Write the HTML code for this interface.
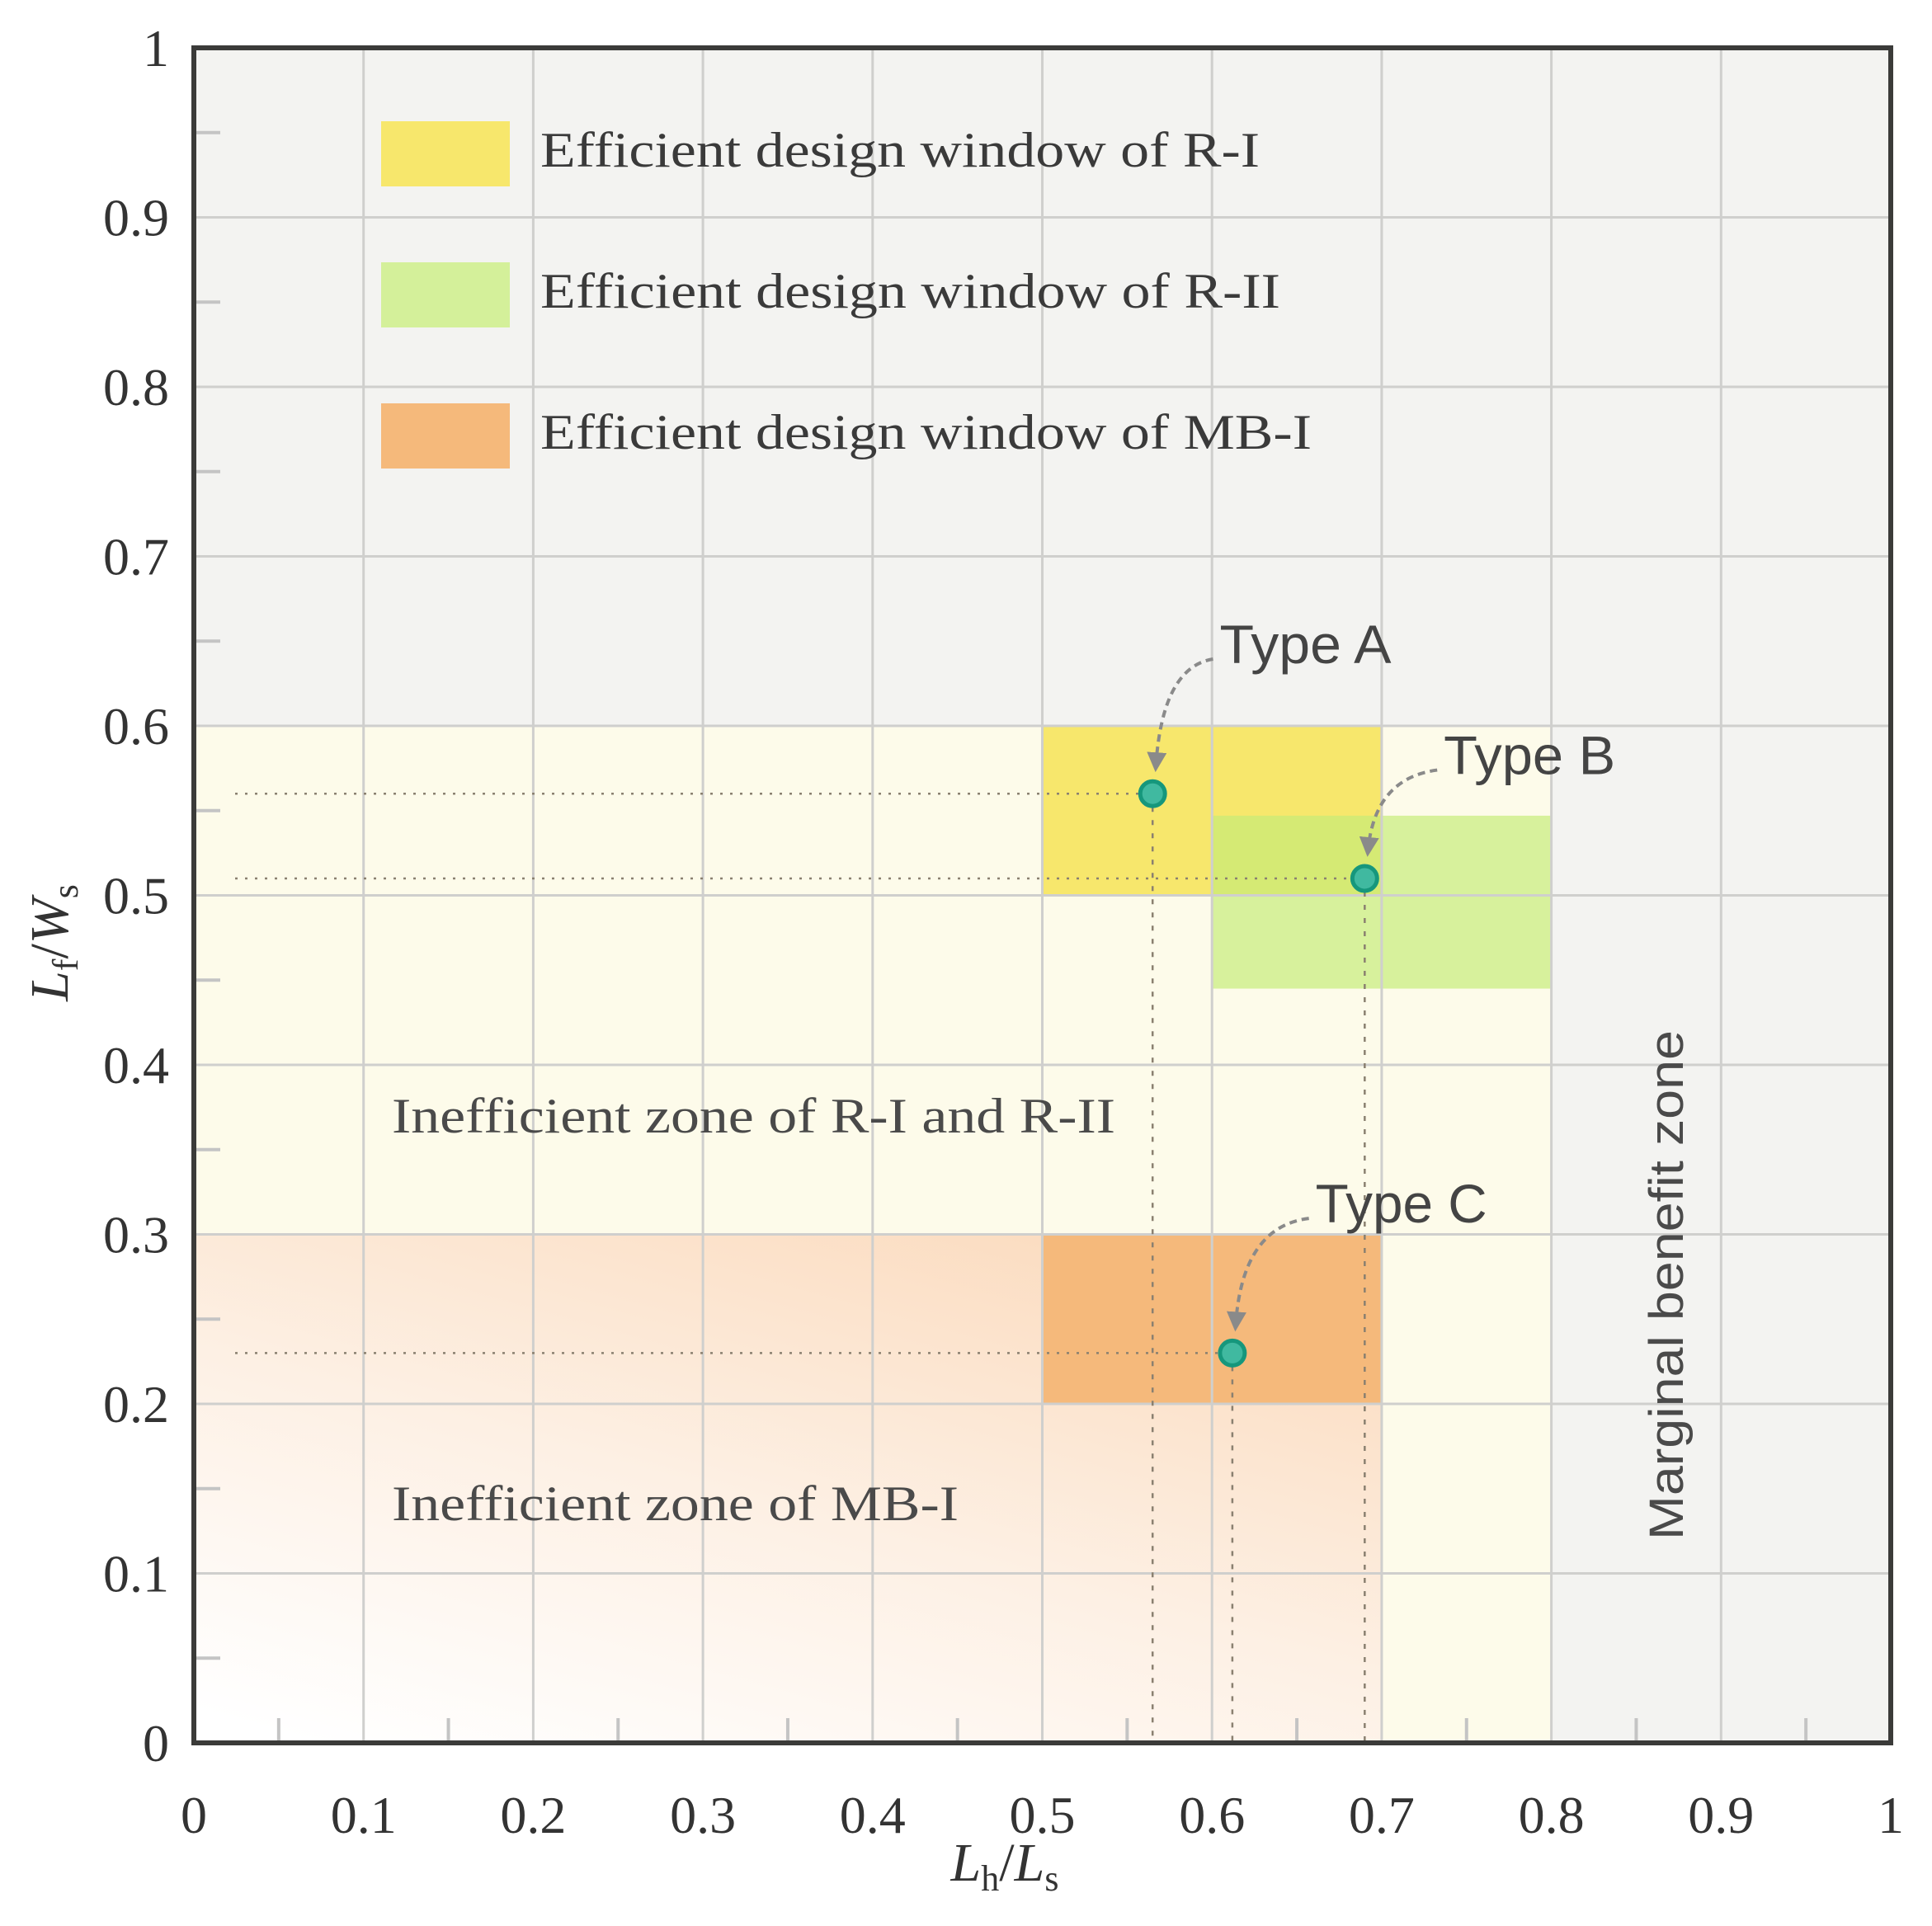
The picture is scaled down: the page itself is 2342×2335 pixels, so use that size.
<!DOCTYPE html>
<html><head><meta charset="utf-8"><style>
html,body{margin:0;padding:0;background:#fff;}
svg{display:block;}
</style></head><body>
<svg id="chart" width="2342" height="2335" viewBox="0 0 2342 2335" xmlns="http://www.w3.org/2000/svg">
<defs>
<linearGradient id="mbgrad" x1="0.1" y1="1" x2="0.75" y2="0">
<stop offset="0" stop-color="#ffffff"/>
<stop offset="0.5" stop-color="#fdf0e4"/>
<stop offset="1" stop-color="#fbdcc0"/>
</linearGradient>
<marker id="arrowhead" markerWidth="6" markerHeight="6" refX="4" refY="3" orient="auto" markerUnits="strokeWidth">
<path d="M0,0 L6,3 L0,6 z" fill="#8a8a8a"/>
</marker>
</defs>
<g id="layer"></g>
</svg>
<script>
// ---- data ----
const xTicks = [0,0.1,0.2,0.3,0.4,0.5,0.6,0.7,0.8,0.9,1];
const yTicks = [0,0.1,0.2,0.3,0.4,0.5,0.6,0.7,0.8,0.9,1];
const xTickLabels = ["0","0.1","0.2","0.3","0.4","0.5","0.6","0.7","0.8","0.9","1"];
const yTickLabels = ["0","0.1","0.2","0.3","0.4","0.5","0.6","0.7","0.8","0.9","1"];
const minorTicks = [0.05,0.15,0.25,0.35,0.45,0.55,0.65,0.75,0.85,0.95];
const zoneNames = ["ineff-r","marginal-strip","ineff-mb","window-r1","window-r2","window-mb1"];
const zoneX0 = [0, 0.7, 0, 0.5, 0.6, 0.5];
const zoneX1 = [0.8, 0.8, 0.7, 0.7, 0.8, 0.7];
const zoneY0 = [0.3, 0, 0, 0.5, 0.445, 0.2];
const zoneY1 = [0.6, 0.3, 0.3, 0.6, 0.547, 0.3];
const zoneFill = ["#fdfbea","#fdfbea","url(#mbgrad)","#f7e76c","rgba(196,236,120,0.68)","#f5b97b"];
const pointNames = ["Type A","Type B","Type C"];
const pointX = [0.565, 0.69, 0.612];
const pointY = [0.56, 0.51, 0.23];
const labelX = [0.6045, 0.7366, 0.661];
const labelY = [0.637, 0.5715, 0.307];
const legendLabels = ["Efficient design window of R-I","Efficient design window of R-II","Efficient design window of MB-I"];
const legendColors = ["#f7e76c","#d4f09a","#f5b97b"];
const legendWidths = [872, 897, 935];

// ---- axes ----
const L=235, R=2292, T=58, B=2113;
const sx = v => L + v*(R-L);
const sy = v => B - v*(B-T);
const NS="http://www.w3.org/2000/svg";
const layer=document.getElementById('layer');
function mk(tag, attrs, parent){const e=document.createElementNS(NS,tag);for(const k in attrs)e.setAttribute(k,attrs[k]);(parent||layer).appendChild(e);return e;}

const bg=mk('rect',{x:L,y:T,width:R-L,height:B-T,fill:'#f3f3f1'});



zoneNames.forEach((n,i)=>{
  const r=mk('rect',{x:sx(zoneX0[i]),y:sy(zoneY1[i]),width:sx(zoneX1[i])-sx(zoneX0[i]),height:sy(zoneY0[i])-sy(zoneY1[i]),fill:zoneFill[i]});
  
  
});

xTicks.forEach((v,i)=>{
  if(i>0&&i<xTicks.length-1){
    const g=mk('line',{x1:sx(v),x2:sx(v),y1:T,y2:B,stroke:'#cfcfcd','stroke-width':3});
    
    
  }
  const t=mk('text',{x:sx(v),y:2222,'text-anchor':'middle','font-family':'Liberation Serif, serif','font-size':64,fill:'#333'});
  t.textContent=xTickLabels[i];
  
  
});
yTicks.forEach((v,i)=>{
  if(i>0&&i<yTicks.length-1){
    const g=mk('line',{x1:L,x2:R,y1:sy(v),y2:sy(v),stroke:'#cfcfcd','stroke-width':3});
    
    
  }
  const t=mk('text',{x:205,y:sy(v)+22,'text-anchor':'end','font-family':'Liberation Serif, serif','font-size':64,fill:'#333'});
  t.textContent=yTickLabels[i];
  
  
});
minorTicks.forEach(v=>{
  const a=mk('line',{x1:L,x2:L+32,y1:sy(v),y2:sy(v),stroke:'#c4c4c4','stroke-width':4});
  
  
  const b=mk('line',{x1:sx(v),x2:sx(v),y1:B,y2:B-30,stroke:'#c4c4c4','stroke-width':4});
  
  
});

// dotted guides and points
pointNames.forEach((n,i)=>{
  const h=mk('line',{x1:L+50,x2:sx(pointX[i]),y1:sy(pointY[i]),y2:sy(pointY[i]),stroke:'#8a8070','stroke-width':2.5,'stroke-dasharray':'3 9'});
  
  
  const v=mk('line',{x1:sx(pointX[i]),x2:sx(pointX[i]),y1:sy(pointY[i]),y2:B,stroke:'#8a8070','stroke-width':2.5,'stroke-dasharray':'6 10'});
  
  
});
pointNames.forEach((n,i)=>{
  const px=sx(pointX[i]), py=sy(pointY[i]);
  const c=mk('circle',{cx:px,cy:py,r:15,fill:'#40b9a0',stroke:'#16977c','stroke-width':5});
  
  
  const lx=sx(labelX[i]), ly=sy(labelY[i]);
  const t=mk('text',{x:lx,y:ly,'font-family':'Liberation Sans, sans-serif','font-size':66,fill:'#444',textLength:208,lengthAdjust:'spacingAndGlyphs'});
  t.textContent=n;
  
  
  const sxp=lx-8, syp=ly-5, ex=px+4, ey=py-34;
  const a=mk('path',{d:`M${sxp},${syp} Q${ex+8},${syp+10} ${ex},${ey}`,fill:'none',stroke:'#8a8a8a','stroke-width':4,'stroke-dasharray':'9 6','marker-end':'url(#arrowhead)'});
  
  
});

// legend
legendLabels.forEach((s,i)=>{
  const y=147+i*171;
  const r=mk('rect',{x:462,y:y,width:156,height:79,fill:legendColors[i]});
  
  
  const t=mk('text',{x:655,y:y+55,'font-family':'Liberation Serif, serif','font-size':60,fill:'#3a3a3a',textLength:legendWidths[i],lengthAdjust:'spacingAndGlyphs'});
  t.textContent=s;
  
  
});

// zone labels
[["Inefficient zone of R-I and R-II",475,1373,"zone-label-r",877],["Inefficient zone of MB-I",475,1843,"zone-label-mb",687]].forEach(d=>{
  const t=mk('text',{x:d[1],y:d[2],'font-family':'Liberation Serif, serif','font-size':60,fill:'#4a4a4a',textLength:d[4],lengthAdjust:'spacingAndGlyphs'});
  t.textContent=d[0];
  
  
});
const mz=mk('text',{x:0,y:0,transform:'translate(2040,1558) rotate(-90)','text-anchor':'middle','font-family':'Liberation Sans, sans-serif','font-size':58,fill:'#4a4a4a',textLength:618,lengthAdjust:'spacingAndGlyphs'});
mz.textContent="Marginal benefit zone";



// frame
const fr=mk('rect',{x:L,y:T,width:R-L,height:B-T,fill:'none',stroke:'#3b3b39','stroke-width':6});



// axis titles
const xt=mk('text',{x:1218,y:2280,'text-anchor':'middle','font-family':'Liberation Serif, serif','font-size':66,fill:'#333'});
xt.innerHTML='<tspan font-style="italic">L</tspan><tspan font-size="44" dy="12">h</tspan><tspan dy="-12">/</tspan><tspan font-style="italic">L</tspan><tspan font-size="44" dy="12">s</tspan>';


const yt=mk('text',{x:0,y:0,transform:'translate(82,1143) rotate(-90)','text-anchor':'middle','font-family':'Liberation Serif, serif','font-size':66,fill:'#333'});
yt.innerHTML='<tspan font-style="italic">L</tspan><tspan font-size="44" dy="12">f</tspan><tspan dy="-12">/</tspan><tspan font-style="italic">W</tspan><tspan font-size="44" dy="12">s</tspan>';


</script>
</body></html>
